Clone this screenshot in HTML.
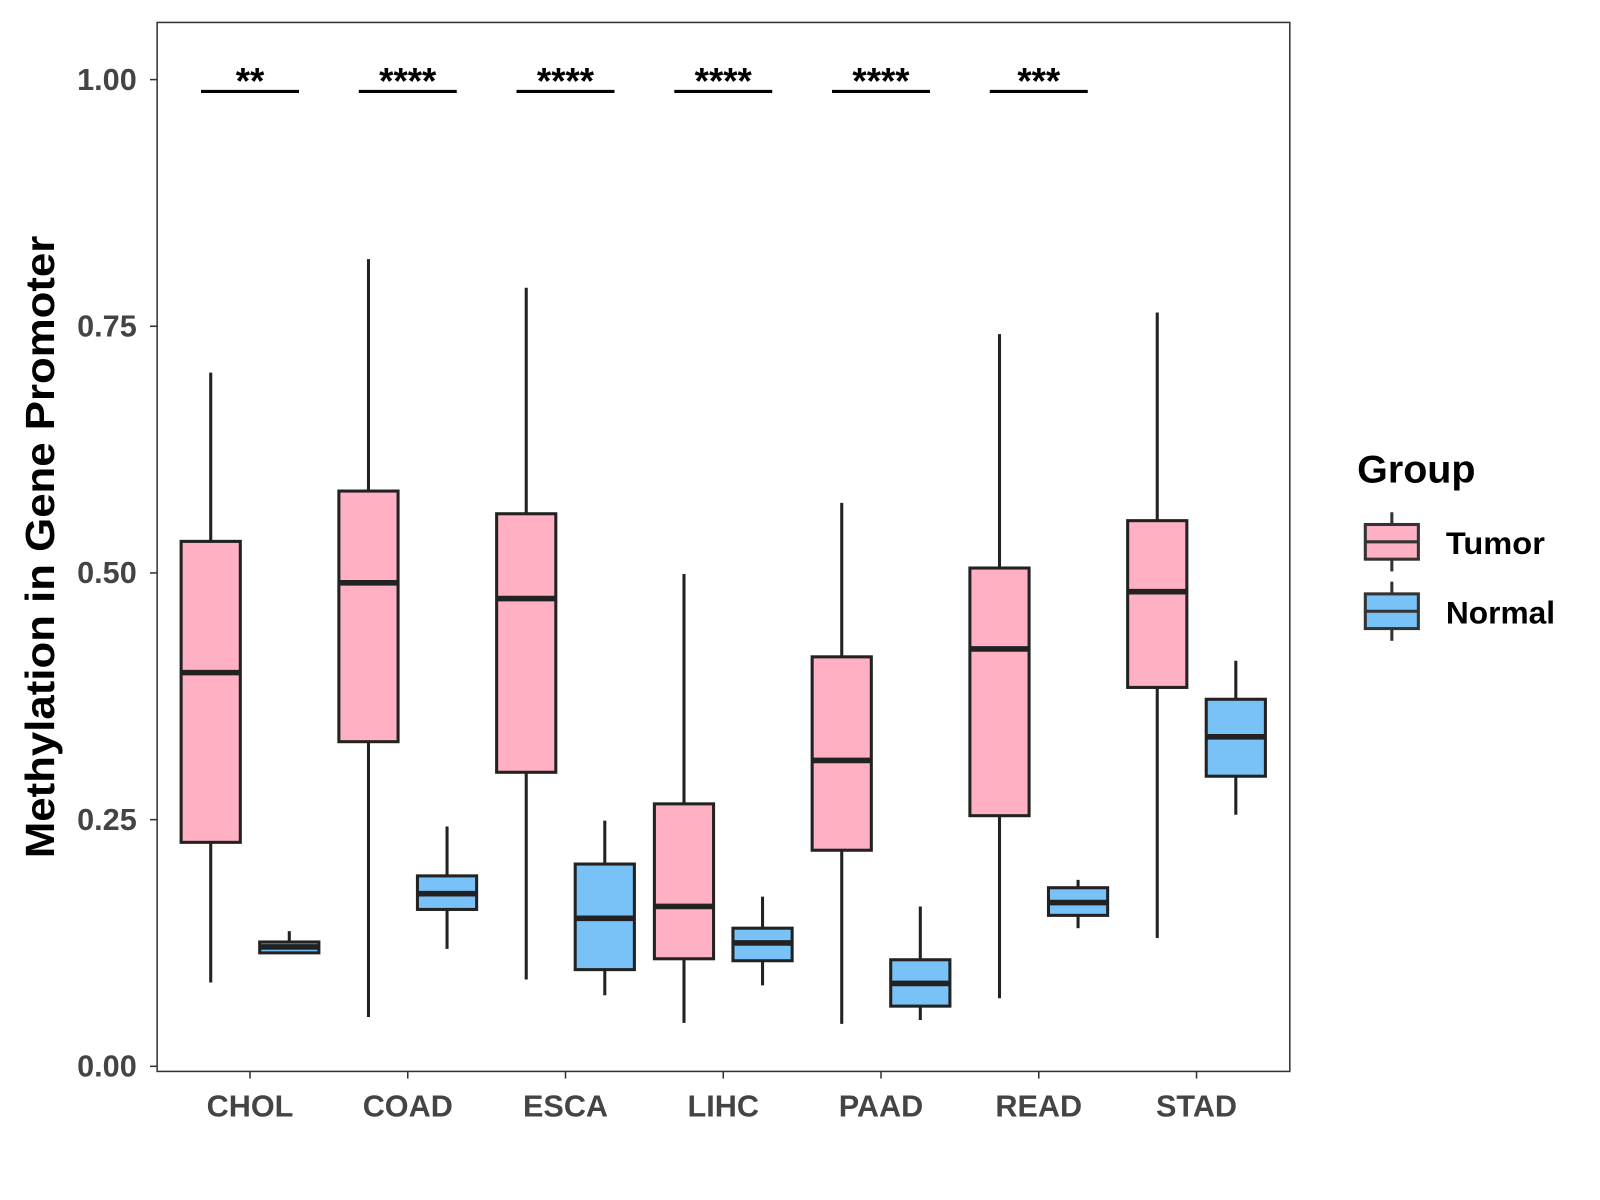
<!DOCTYPE html>
<html><head><meta charset="utf-8"><style>
html,body{margin:0;padding:0;background:#fff;}
svg{display:block;font-family:"Liberation Sans",Arial,sans-serif;}
</style></head><body>
<svg id="chart" width="1600" height="1200" viewBox="0 0 1568 1176" xmlns="http://www.w3.org/2000/svg">
<rect x="0" y="0" width="1568" height="1176" fill="#fff"/>
<g id="plot"></g>
<rect x="154" y="22" width="1110" height="1028" fill="none" stroke="#333" stroke-width="1.5"/>
<text transform="translate(53,536) rotate(-90)" text-anchor="middle" font-size="40" font-weight="bold" fill="#000" textLength="610" lengthAdjust="spacingAndGlyphs">Methylation in Gene Promoter</text>
<g>
<text x="1330" y="473" font-size="38" font-weight="bold" fill="#000" textLength="116" lengthAdjust="spacingAndGlyphs">Group</text>
<g>
<line x1="1364" y1="502" x2="1364" y2="560" stroke="#333" stroke-width="3"/>
<rect x="1338" y="514" width="52" height="34" fill="#FFB0C2" stroke="#333" stroke-width="3"/>
<line x1="1338" y1="531" x2="1390" y2="531" stroke="#333" stroke-width="3"/>
<text x="1417" y="543" font-size="31" font-weight="bold" fill="#000" textLength="97" lengthAdjust="spacingAndGlyphs">Tumor</text>
</g>
<g>
<line x1="1364" y1="570" x2="1364" y2="628" stroke="#333" stroke-width="3"/>
<rect x="1338" y="582" width="52" height="34" fill="#78C2F7" stroke="#333" stroke-width="3"/>
<line x1="1338" y1="599" x2="1390" y2="599" stroke="#333" stroke-width="3"/>
<text x="1417" y="611" font-size="31" font-weight="bold" fill="#000" textLength="107" lengthAdjust="spacingAndGlyphs">Normal</text>
</g>
</g>
</svg>
<script>
const categories = ["CHOL","COAD","ESCA","LIHC","PAAD","READ","STAD"];
const tumorLow = [0.085,0.050,0.088,0.044,0.043,0.069,0.130];
const tumorQ1 = [0.227,0.329,0.298,0.109,0.219,0.254,0.384];
const tumorMed = [0.399,0.490,0.474,0.162,0.310,0.423,0.481];
const tumorQ3 = [0.532,0.583,0.560,0.266,0.415,0.505,0.553];
const tumorHigh = [0.703,0.818,0.789,0.499,0.571,0.742,0.764];
const normalLow = [0.115,0.119,0.072,0.082,0.047,0.140,0.255];
const normalQ1 = [0.115,0.159,0.098,0.107,0.061,0.153,0.294];
const normalMed = [0.121,0.175,0.150,0.125,0.084,0.166,0.334];
const normalQ3 = [0.126,0.193,0.205,0.140,0.108,0.181,0.372];
const normalHigh = [0.137,0.243,0.249,0.172,0.162,0.189,0.411];
const signif = ["**","****","****","****","****","***",""];
const yTicks = [0,0.25,0.5,0.75,1.0];
const yTickLabels = ["0.00","0.25","0.50","0.75","1.00"];

const NS="http://www.w3.org/2000/svg";
const g=document.getElementById('plot');
const y=v=>1045-v*967;
const x=i=>245+i*154.6;
function el(tag,attrs,parent){const e=document.createElementNS(NS,tag);for(const k in attrs)e.setAttribute(k,attrs[k]);(parent||g).appendChild(e);return e;}

yTicks.forEach((t,i)=>{
  const tk=el('line',{x1:147,x2:154,y1:y(t),y2:y(t),stroke:'#333','stroke-width':1.5});
  
  
  const tx=el('text',{x:134,y:y(t)+10,'text-anchor':'end','font-size':30,'font-weight':'bold',fill:'#444'});
  tx.textContent=yTickLabels[i];
  
  
});

function box(cx,lo,q1,med,q3,hi,fill,name){
  const grp=el('g',{});
  
  
  const w=58;
  el('line',{x1:cx,x2:cx,y1:y(hi),y2:y(lo),stroke:'#222','stroke-width':3},grp);
  el('rect',{x:cx-w/2,y:y(q3),width:w,height:Math.max(y(q1)-y(q3),1),fill:fill,stroke:'#222','stroke-width':3},grp);
  el('line',{x1:cx-w/2,x2:cx+w/2,y1:y(med),y2:y(med),stroke:'#222','stroke-width':5.5},grp);
}

categories.forEach((c,i)=>{
  const cx=x(i);
  box(cx-38.5,tumorLow[i],tumorQ1[i],tumorMed[i],tumorQ3[i],tumorHigh[i],'#FFB0C2','box-tumor-'+c.toLowerCase());
  box(cx+38.5,normalLow[i],normalQ1[i],normalMed[i],normalQ3[i],normalHigh[i],'#78C2F7','box-normal-'+c.toLowerCase());
  const tk=el('line',{x1:cx,x2:cx,y1:1050,y2:1057,stroke:'#333','stroke-width':1.5});
  
  
  const tx=el('text',{x:cx,y:1094,'text-anchor':'middle','font-size':30,'font-weight':'bold',fill:'#444'});
  tx.textContent=c;
  
  
  if(signif[i]){
    const ln=el('line',{x1:cx-48,x2:cx+48,y1:y(0.988),y2:y(0.988),stroke:'#000','stroke-width':3});
    
    
    const st=el('text',{x:cx,y:y(0.988)+2,'text-anchor':'middle','font-size':36,'font-weight':'bold',fill:'#000'});
    st.textContent=signif[i];
    
    
  }
});
</script>
</body></html>
